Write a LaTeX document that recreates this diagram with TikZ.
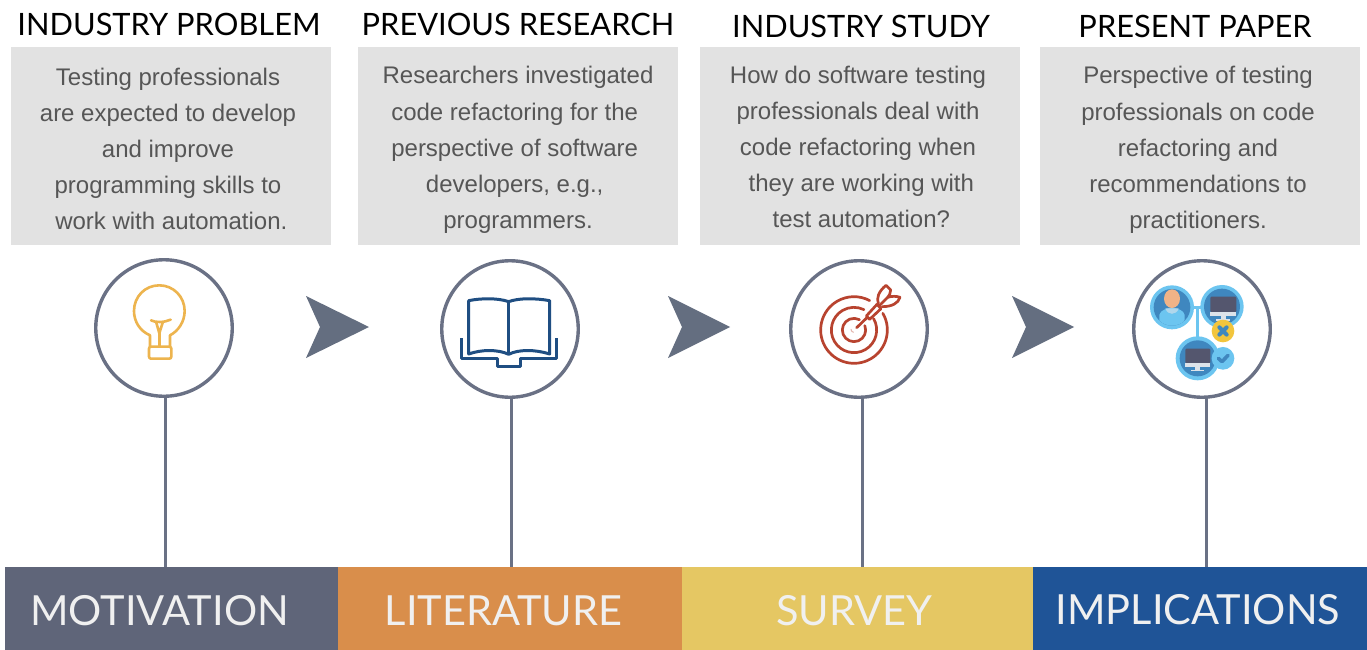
\documentclass[tikz,border=0pt]{standalone}
\usepackage{fontspec}
\setmainfont{Liberation Sans}
\newfontfamily\latofont{Lato}
\definecolor{boxgray}{HTML}{E2E2E2}
\definecolor{bodygray}{HTML}{565656}
\definecolor{ringgray}{HTML}{6A7185}
\definecolor{arrowgray}{HTML}{646E80}
\definecolor{barA}{HTML}{5F6579}
\definecolor{barB}{HTML}{D98E4B}
\definecolor{barC}{HTML}{E5C763}
\definecolor{barD}{HTML}{1F5497}
\definecolor{bulbc}{HTML}{EDB44E}
\definecolor{bookc}{HTML}{1F4E82}
\definecolor{targetc}{HTML}{B8432F}
\definecolor{skyc}{HTML}{6CC5F0}
\definecolor{midc}{HTML}{3F87BF}
\definecolor{screenc}{HTML}{54566E}
\definecolor{standc}{HTML}{DDE3EA}
\definecolor{skinc}{HTML}{F0B387}
\definecolor{badgec}{HTML}{F2C53D}
\newcommand{\lsp}{\hbox to 6.6pt{}}
\tikzset{
 textbox/.style={fill=boxgray,minimum width=320pt,minimum height=198pt,inner sep=0pt,anchor=north west},
 bodytext/.style={text=bodygray,align=center,font=\fontsize{24}{36.2}\selectfont,inner sep=0pt,anchor=center},
 headtext/.style={text=black,font=\latofont\fontsize{30.8}{36}\selectfont,inner sep=0pt,anchor=center},
 ring/.style={circle,draw=ringgray,line width=3.4pt,fill=white,minimum size=136.5pt,inner sep=0pt},
 stem/.style={draw=ringgray,line width=3pt},
 bar/.style={minimum height=83pt,inner sep=0pt,anchor=north west},
 bartext/.style={text=white!94!black,font=\latofont\fontsize{41.5}{50}\selectfont,inner sep=0pt,anchor=center},
 chevron/.style={fill=arrowgray},
}
\begin{document}
\begin{tikzpicture}[x=1pt,y=-1pt]
\useasboundingbox (0,0) rectangle (1367,650);
\fill[white] (0,0) rectangle (1367,650);
% headings
\node[headtext] (h1) at (169,24) {INDUSTRY PROBLEM};
\node[headtext] (h2) at (518,24) {PREVIOUS RESEARCH};
\node[headtext] (h3) at (861,26) {INDUSTRY STUDY};
\node[headtext] (h4) at (1195,26) {PRESENT PAPER};
% boxes
\node[textbox] (b1) at (11,47) {};
\node[textbox] (b2) at (358,47) {};
\node[textbox] (b3) at (700,47) {};
\node[textbox] (b4) at (1040,47) {};
\node[bodytext] (t1) at (168,149) {Testing professionals\\are expected to develop\\and improve\\programming skills to\\\lsp work with automation.};
\node[bodytext] (t2) at (518,150) {Researchers investigated\\code refactoring for the\lsp\\perspective of software\lsp\\developers, e.g.,\lsp\\programmers.};
\node[bodytext] (t3) at (858,147) {How do software testing\\professionals deal with\\code refactoring when\\\lsp they are working with\\\lsp test automation?};
\node[bodytext] (t4) at (1198,150) {Perspective of testing\\professionals on code\\refactoring and\\recommendations to\\practitioners.};
% bars
\node[bar,fill=barA,minimum width=333pt] (r1) at (5,567) {};
\node[bar,fill=barB,minimum width=344pt] (r2) at (338,567) {};
\node[bar,fill=barC,minimum width=351pt] (r3) at (682,567) {};
\node[bar,fill=barD,minimum width=334pt] (r4) at (1033,567) {};
\node[bartext] (l1) at (159.5,611) {MOTIVATION};
\node[bartext] (l2) at (503.5,611) {LITERATURE};
\node[bartext] (l3) at (854.5,611) {SURVEY};
\node[bartext] (l4) at (1198,610) {IMPLICATIONS};
% stems
\coordinate (e1) at (165,567);
\coordinate (e2) at (511,567);
\coordinate (e3) at (862,567);
\coordinate (e4) at (1206,567);
\coordinate (s1) at (165,380);
\coordinate (s2) at (511,380);
\coordinate (s3) at (862,380);
\coordinate (s4) at (1206,380);
\draw[stem] (s1) -- (e1);
\draw[stem] (s2) -- (e2);
\draw[stem] (s3) -- (e3);
\draw[stem] (s4) -- (e4);
% rings
\node[ring] (c1) at (164,328) {};
\node[ring] (c2) at (510,329) {};
\node[ring] (c3) at (859,329) {};
\node[ring] (c4) at (1202,329) {};
% chevrons
\fill[chevron] (306,296) -- (369,327) -- (306,358) -- (320,327) -- cycle;
\fill[chevron] (668,296) -- (730,327) -- (668,358) -- (682,327) -- cycle;
\fill[chevron] (1012,296) -- (1074,327) -- (1012,358) -- (1026,327) -- cycle;
% bulb
\begin{scope}[shift={(90,250)},x=0.3333pt,y=-0.3333pt,draw=bulbc,line width=2.6pt,line cap=round,line join=round]
\draw (180,290) -- (180,256) .. controls (150,243) and (132,215) .. (132,183)
  .. controls (132,140) and (165,106) .. (208,106)
  .. controls (250,106) and (284,140) .. (284,183)
  .. controls (284,215) and (265,243) .. (240,256) -- (240,290);
\draw[rounded corners=2pt] (177,290) rectangle (244,326);
\draw (183,211) .. controls (195,218) and (222,218) .. (242,209);
\draw (199,218) -- (208,250) -- (218,218);
\draw (208,250) -- (208,290);
\end{scope}
% book
\begin{scope}[shift={(435,250)},x=0.3333pt,y=-0.3333pt,draw=bookc,line width=3pt,line join=round]
\draw (101,312) -- (101,152) .. controls (140,144) and (190,144) .. (221,155)
  .. controls (250,144) and (300,144) .. (344,152) -- (344,312)
  .. controls (300,298) and (250,298) .. (221,313)
  .. controls (190,298) and (140,298) .. (101,312) -- cycle;
\draw (221,155) -- (221,313);
\draw (79,265) -- (79,325) -- (188,325) -- (188,350) -- (258,350) -- (258,325) -- (364,325) -- (364,265);
\end{scope}
% target
\begin{scope}[shift={(785,250)},x=0.3333pt,y=-0.3333pt,draw=targetc,line width=2.7pt,line cap=round,line join=round]
\draw ([shift={(-30:100)}]207,240) arc[start angle=-30,end angle=298,radius=100];
\draw ([shift={(-30:68)}]207,240) arc[start angle=-30,end angle=296,radius=68];
\draw ([shift={(-22:35)}]207,240) arc[start angle=-22,end angle=298,radius=35];
\draw[targetc!40,line width=1pt] (198,238) arc[start angle=180,end angle=100,radius=9];
\draw (215,233) -- (246,203);
\draw (244,198) -- (254,208) -- (288,176) -- (276,163) -- cycle;
\draw (280,160) .. controls (274,145) and (280,125) .. (303,106) -- (317,120) .. controls (317,130) and (312,138) .. (308,142)
  .. controls (320,138) and (335,138) .. (345,142) .. controls (340,160) and (320,170) .. (292,170);
\draw (308,142) -- (282,168);
\end{scope}
% people
\begin{scope}[shift={(1127,250)},x=0.3333pt,y=-0.3333pt]
\draw[skyc,line width=2.8pt] (195,172) -- (228,172) (212,172) -- (212,265);
\fill[skyc] (135,172) circle[radius=66];
\fill[midc] (135,172) circle[radius=55];
\begin{scope}
\clip (135,172) circle[radius=55];
\fill[skyc] (97,235) -- (97,195) .. controls (100,180) and (118,176) .. (135,172) .. controls (152,176) and (170,180) .. (173,195) -- (173,235) -- cycle;
\fill[standc!60!skyc] (115,175) .. controls (122,197) and (148,197) .. (155,175) -- cycle;
\end{scope}
\fill[skinc] (135,146) ellipse[x radius=24,y radius=28];
\fill[skyc] (285,170) circle[radius=65];
\fill[midc] (285,170) circle[radius=54];
\fill[screenc,rounded corners=1pt] (250,140) rectangle (328,186);
\fill[standc] (250,186) rectangle (328,198);
\fill[standc] (281,198) rectangle (297,207);
\fill[standc] (268,207) rectangle (310,212);
\fill[skyc] (212,325) circle[radius=66];
\fill[midc] (212,325) circle[radius=54];
\fill[screenc,rounded corners=1pt] (175,296) rectangle (250,340);
\fill[standc] (175,340) rectangle (250,351);
\fill[standc] (205,351) rectangle (220,359);
\fill[standc] (193,359) rectangle (232,364);
\fill[badgec] (288,243) circle[radius=34];
\draw[midc,line width=4pt,line cap=round] (277,232) -- (299,254) (299,232) -- (277,254);
\fill[skyc] (288,325) circle[radius=34];
\draw[midc,line width=3.6pt,line cap=round,line join=round] (274,325) -- (285,335) -- (303,316);
\end{scope}
\end{tikzpicture}
\end{document}
